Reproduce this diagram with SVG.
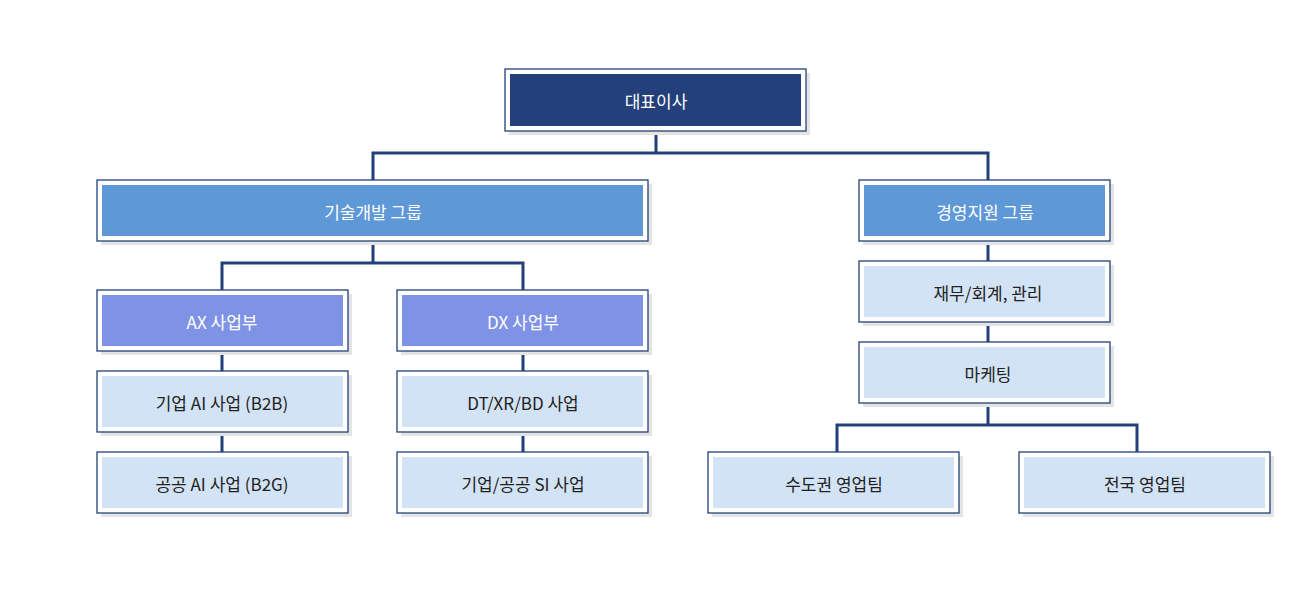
<svg xmlns="http://www.w3.org/2000/svg" width="1312" height="600" viewBox="0 0 1312 600">
<style>
.o{fill:#fff;stroke:#23407a;stroke-width:1.3}
.s{fill:#e4e4e4}
.t{font-family:"Noto Sans CJK KR","Noto Sans",sans-serif;font-size:17px;text-anchor:middle;dominant-baseline:central}
.w{fill:#fff}.d{fill:#222}
.c{fill:none;stroke:#23407a;stroke-width:3}
</style>
<rect width="1312" height="600" fill="#fff"/>
<g id="connectors" class="c">
<path d="M656 131V153M373 180V153H988V180"/>
<path d="M373 241V263M222 290V263H523V290"/>
<path d="M222 351V371M222 432V452M523 351V371M523 432V452"/>
<path d="M988 241V261M988 322V342M988 403V425M837 452V425H1137V452"/>
</g>
<g id="n_ceo"><rect class="s" x="509" y="73" width="301" height="62"/><rect class="o" x="505" y="69" width="301" height="62"/><rect x="510" y="74" width="291" height="52" fill="#23407a"/><text class="t w" x="656" y="100" font-size="20">대표이사</text></g>
<g id="n_tech"><rect class="s" x="101" y="184" width="551" height="61"/><rect class="o" x="97" y="180" width="551" height="61"/><rect x="102" y="185" width="541" height="51" fill="#5e98d6"/><text class="t w" x="373" y="211">기술개발 그룹</text></g>
<g id="n_mgmt"><rect class="s" x="863" y="184" width="251" height="61"/><rect class="o" x="859" y="180" width="251" height="61"/><rect x="864" y="185" width="241" height="51" fill="#5e98d6"/><text class="t w" x="985" y="211">경영지원 그룹</text></g>
<g id="n_ax"><rect class="s" x="101" y="294" width="251" height="61"/><rect class="o" x="97" y="290" width="251" height="61"/><rect x="102" y="295" width="241" height="51" fill="#7f93e6"/><text class="t w" x="222" y="321">AX 사업부</text></g>
<g id="n_dx"><rect class="s" x="401" y="294" width="251" height="61"/><rect class="o" x="397" y="290" width="251" height="61"/><rect x="402" y="295" width="241" height="51" fill="#7f93e6"/><text class="t w" x="523" y="321">DX 사업부</text></g>
<g id="n_b2b"><rect class="s" x="101" y="375" width="251" height="61"/><rect class="o" x="97" y="371" width="251" height="61"/><rect x="102" y="376" width="241" height="51" fill="#d2e3f5"/><text class="t d" x="222" y="402">기업 AI 사업 (B2B)</text></g>
<g id="n_b2g"><rect class="s" x="101" y="456" width="251" height="61"/><rect class="o" x="97" y="452" width="251" height="61"/><rect x="102" y="457" width="241" height="51" fill="#d2e3f5"/><text class="t d" x="222" y="483">공공 AI 사업 (B2G)</text></g>
<g id="n_dt"><rect class="s" x="401" y="375" width="251" height="61"/><rect class="o" x="397" y="371" width="251" height="61"/><rect x="402" y="376" width="241" height="51" fill="#d2e3f5"/><text class="t d" x="523" y="402">DT/XR/BD 사업</text></g>
<g id="n_si"><rect class="s" x="401" y="456" width="251" height="61"/><rect class="o" x="397" y="452" width="251" height="61"/><rect x="402" y="457" width="241" height="51" fill="#d2e3f5"/><text class="t d" x="523" y="483">기업/공공 SI 사업</text></g>
<g id="n_fin"><rect class="s" x="863" y="265" width="251" height="61"/><rect class="o" x="859" y="261" width="251" height="61"/><rect x="864" y="266" width="241" height="51" fill="#d2e3f5"/><text class="t d" x="988" y="292">재무/회계, 관리</text></g>
<g id="n_mkt"><rect class="s" x="863" y="346" width="251" height="61"/><rect class="o" x="859" y="342" width="251" height="61"/><rect x="864" y="347" width="241" height="51" fill="#d2e3f5"/><text class="t d" x="988" y="373">마케팅</text></g>
<g id="n_cap"><rect class="s" x="712" y="456" width="251" height="61"/><rect class="o" x="708" y="452" width="251" height="61"/><rect x="713" y="457" width="241" height="51" fill="#d2e3f5"/><text class="t d" x="834" y="483">수도권 영업팀</text></g>
<g id="n_nat"><rect class="s" x="1023" y="456" width="251" height="61"/><rect class="o" x="1019" y="452" width="251" height="61"/><rect x="1024" y="457" width="241" height="51" fill="#d2e3f5"/><text class="t d" x="1145" y="483">전국 영업팀</text></g>
</svg>
